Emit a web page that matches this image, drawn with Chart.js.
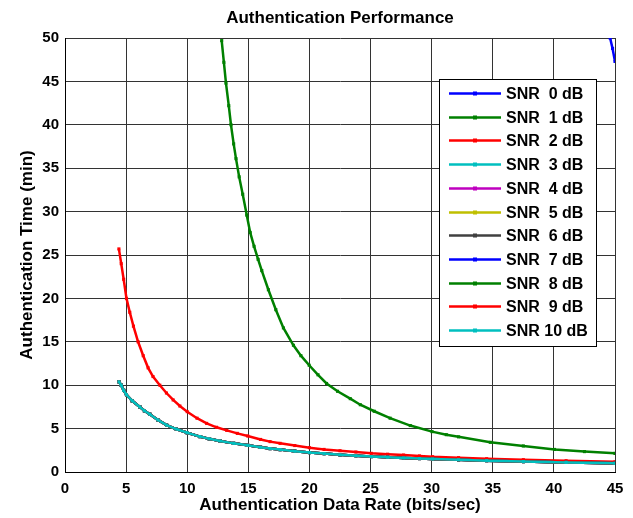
<!DOCTYPE html>
<html>
<head>
<meta charset="utf-8">
<script src="https://cdn.jsdelivr.net/npm/chart.js@4"></script>
<style>
  html, body { margin: 0; padding: 0; background: #ffffff; }
  #wrap { width: 633px; height: 518px; position: relative; }
</style>
</head>
<body>
<div id="wrap"><canvas id="c" width="633" height="518"></canvas></div>
<script>
// ---- data ----
const seriesLabels = ['SNR  0 dB','SNR  1 dB','SNR  2 dB','SNR  3 dB','SNR  4 dB','SNR  5 dB','SNR  6 dB','SNR  7 dB','SNR  8 dB','SNR  9 dB','SNR 10 dB'];
const seriesColors = ['#0000ff','#008000','#ff0000','#00bfbf','#bf00bf','#bfbf00','#404040','#0000ff','#008000','#ff0000','#00bfbf'];

const xTicks = [0,5,10,15,20,25,30,35,40,45];
const yTicks = [0,5,10,15,20,25,30,35,40,45,50];

// SNR 0 dB (only visible at the top right corner)
const rateSnr0 = [44.6, 44.8, 45.0];
const timeSnr0 = [50.0, 48.8, 47.3];

// SNR 1 dB
const rateSnr1 = [12.82,13.0,13.17,13.4,13.58,13.8,13.99,14.25,14.54,14.87,15.15,15.47,15.8,16.1,16.64,17.25,17.87,18.69,19.3,19.98,20.7,21.4,22.3,23.34,24.16,25.3,26.6,28.25,30.03,31.2,32.2,34.8,37.5,40.06,42.5,45.0];
const timeSnr1 = [49.7,47.2,44.8,42.2,40.0,37.8,36.1,34.0,32.0,29.6,27.6,26.0,24.5,23.2,21.0,18.7,16.6,14.6,13.4,12.3,11.2,10.2,9.3,8.45,7.75,7.0,6.2,5.35,4.65,4.3,4.05,3.42,3.0,2.6,2.35,2.15];

// SNR 2 dB
const rateSnr2 = [4.41,4.6,4.8,5.03,5.3,5.6,5.98,6.4,6.8,7.2,7.76,8.3,8.85,9.4,10.0,10.8,11.59,12.4,13.23,14.1,14.95,16.0,16.78,17.6,18.8,20.0,21.2,22.5,23.8,25.06,26.4,27.7,29.0,30.08,32.2,34.5,37.5,41.0,45.0];
const timeSnr2 = [25.7,24.0,22.2,20.0,18.4,16.8,15.0,13.4,12.0,11.0,10.0,9.1,8.3,7.6,6.95,6.2,5.6,5.15,4.8,4.45,4.15,3.75,3.5,3.3,3.05,2.8,2.6,2.45,2.3,2.15,2.05,1.95,1.85,1.76,1.65,1.53,1.42,1.3,1.18];

// SNR 3 dB ... SNR 10 dB (curves coincide in the picture)
const rateSnr3to10 = [4.41,4.6,4.8,5.03,5.5,6.12,6.5,6.94,7.6,8.31,9.1,10.0,11.04,11.8,12.68,13.8,14.95,16.0,16.78,17.6,18.8,20.0,21.2,22.5,23.8,25.06,26.4,27.7,29.0,30.08,32.2,34.5,37.5,41.0,45.0];
const timeSnr3to10 = [10.4,10.0,9.4,8.9,8.2,7.5,7.05,6.65,6.0,5.4,4.95,4.52,4.08,3.82,3.58,3.3,3.07,2.85,2.7,2.58,2.4,2.24,2.12,1.98,1.88,1.78,1.7,1.62,1.55,1.49,1.4,1.31,1.2,1.1,1.0];

const seriesRates = [rateSnr0, rateSnr1, rateSnr2, rateSnr3to10, rateSnr3to10, rateSnr3to10, rateSnr3to10, rateSnr3to10, rateSnr3to10, rateSnr3to10, rateSnr3to10];
const seriesTimes = [timeSnr0, timeSnr1, timeSnr2, timeSnr3to10, timeSnr3to10, timeSnr3to10, timeSnr3to10, timeSnr3to10, timeSnr3to10, timeSnr3to10, timeSnr3to10];

const FONT = '"Liberation Sans", Arial, Helvetica, sans-serif';

const datasets = seriesLabels.map((lab, i) => ({
  label: lab,
  data: seriesRates[i].map((x, k) => ({x: x, y: seriesTimes[i][k]})),
  borderColor: seriesColors[i],
  backgroundColor: seriesColors[i],
  borderWidth: 2.5,
  pointRadius: 2.2,
  pointBorderWidth: 0,
  pointStyle: 'rect',
  tension: 0,
  fill: false,
  order: 10 - i
}));

const titlePlugin = {
  id: 'figTitle',
  afterDraw(chart) {
    const ctx = chart.ctx;
    const a = chart.chartArea;
    ctx.save();
    ctx.font = 'bold 17px ' + FONT;
    ctx.fillStyle = '#000';
    ctx.textAlign = 'center';
    ctx.textBaseline = 'middle';
    ctx.fillText('Authentication Performance', (a.left + a.right) / 2, 18);
    ctx.restore();
  }
};

const legendPlugin = {
  id: 'insideLegend',
  afterDraw(chart) {
    const ctx = chart.ctx;
    const bx = 439.5, by = 79.5, bw = 157, bh = 267;
    ctx.save();
    ctx.fillStyle = '#fff';
    ctx.fillRect(bx, by, bw, bh);
    ctx.strokeStyle = '#000';
    ctx.lineWidth = 1;
    ctx.strokeRect(bx, by, bw, bh);
    ctx.font = 'bold 16px ' + FONT;
    ctx.textAlign = 'left';
    ctx.textBaseline = 'middle';
    chart.data.datasets.forEach((ds, i) => {
      const y = Math.round(93 + i * 23.7) + 0.5;
      ctx.strokeStyle = ds.borderColor;
      ctx.lineWidth = 2.5;
      ctx.beginPath();
      ctx.moveTo(449, y);
      ctx.lineTo(501, y);
      ctx.stroke();
      ctx.fillStyle = ds.borderColor;
      ctx.fillRect(473, y - 2, 4, 4);
      ctx.fillStyle = '#000';
      ctx.fillText(ds.label, 506, y + 1);
    });
    ctx.restore();
  }
};

new Chart(document.getElementById('c'), {
  type: 'line',
  data: { datasets: datasets },
  plugins: [titlePlugin, legendPlugin],
  options: {
    responsive: false,
    animation: false,
    layout: { padding: { top: 38, right: 18, left: 0, bottom: 0 } },
    plugins: {
      legend: { display: false },
      tooltip: { enabled: false },
      title: { display: false }
    },
    scales: {
      x: {
        type: 'linear',
        min: 0, max: 45,
        afterFit(s) { s.height = 46; },
        afterBuildTicks(s) { s.ticks = xTicks.map(v => ({value: v})); },
        grid: { color: '#333', lineWidth: 1, drawTicks: false },
        border: { color: '#000', width: 1 },
        ticks: { color: '#000', font: { family: FONT, size: 15, weight: 'bold' }, padding: 8, maxRotation: 0 },
        title: { display: true, text: 'Authentication Data Rate (bits/sec)', color: '#000',
                 font: { family: FONT, size: 17, weight: 'bold' }, padding: { top: 0, bottom: 2 } }
      },
      y: {
        type: 'linear',
        min: 0, max: 50,
        afterFit(s) { s.width = 65; },
        afterBuildTicks(s) { s.ticks = yTicks.map(v => ({value: v})); },
        grid: { color: '#333', lineWidth: 1, drawTicks: false },
        border: { color: '#000', width: 1 },
        ticks: { color: '#000', font: { family: FONT, size: 15, weight: 'bold' }, padding: 6 },
        title: { display: true, text: 'Authentication Time (min)', color: '#000',
                 font: { family: FONT, size: 17, weight: 'bold' }, padding: { top: 17, bottom: 0 } }
      }
    }
  }
});
</script>
</body>
</html>
